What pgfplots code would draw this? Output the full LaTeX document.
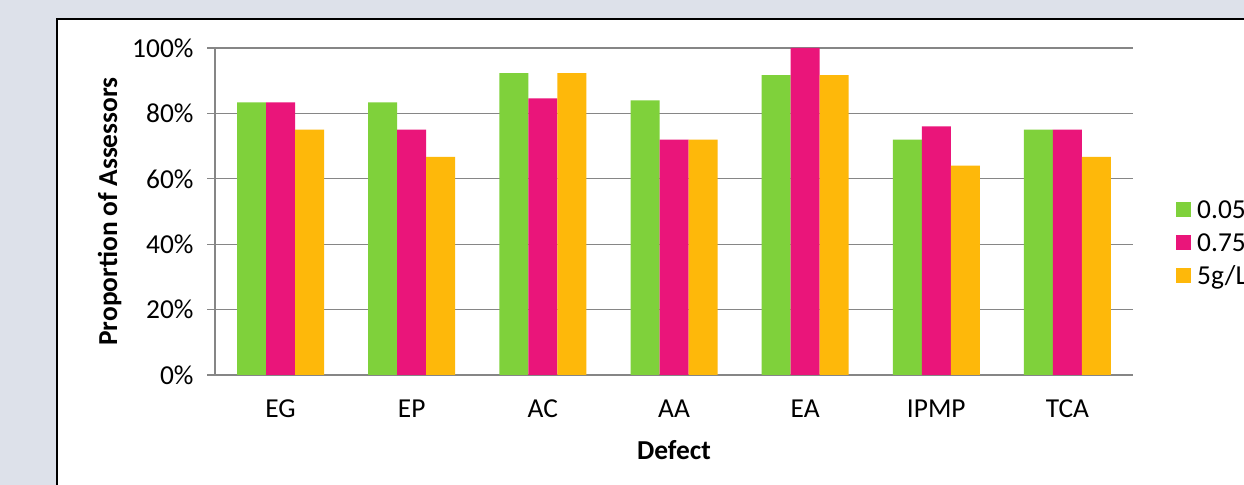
\documentclass[border=0pt]{standalone}
\usepackage{pgfplots}
\pgfplotsset{compat=1.18}
\usepackage{fontspec}
\setmainfont{Carlito}

\definecolor{pagebg}{HTML}{DDE1EA}
\definecolor{gridgray}{HTML}{868686}
\definecolor{cgreen}{HTML}{7FD13B}
\definecolor{cpink}{HTML}{EA157A}
\definecolor{corange}{HTML}{FEB80A}

\begin{document}
\begin{tikzpicture}[x=1bp,y=1bp]
  % page background and chart frame
  \fill[pagebg] (0,0) rectangle (1244,485);
  \fill[white] (57,-5) rectangle (1250,466);
  \draw[black, line width=2bp] (57,-5) -- (57,466) -- (1250,466);

  \begin{axis}[
    at={(215bp,110bp)}, anchor=south west,
    scale only axis, width=918bp, height=327bp,
    xmin=-0.5, xmax=6.5, ymin=0, ymax=100,
    ybar=0pt, bar width=29bp,
    xtick={0,...,6},
    xticklabels={EG,EP,AC,AA,EA,IPMP,TCA},
    ytick={0,20,40,60,80,100},
    yticklabels={0\%,20\%,40\%,60\%,80\%,100\%},
    axis x line*=bottom, axis y line*=left,
    axis line style={gridgray, line width=1.3bp, -},
    ymajorgrids, grid style={gridgray, line width=1.3bp},
    major x tick style={draw=none},
    major y tick style={gridgray, line width=1.3bp},
    major tick length=8bp, tick align=outside,
    tick label style={font=\fontsize{27.5}{32}\selectfont, text=black},
    yticklabel style={xshift=-10bp},
    xticklabel style={yshift=-13bp},
    xlabel={Defect}, ylabel={Proportion of Assessors},
    label style={font=\fontsize{27.5}{32}\selectfont\bfseries},
    xlabel style={yshift=-16bp},
    ylabel style={yshift=4bp},
    legend style={draw=none, fill=none, at={(1.0436,0.404)}, anchor=west,
      font=\fontsize{27.5}{32}\selectfont, row sep=0pt,
      nodes={text height=17bp, text depth=0bp, inner ysep=8bp},
      /tikz/every odd column/.append style={column sep=4bp}},
    legend cell align=left,
    legend image code/.code={\fill[#1] (0bp,-7.5bp) rectangle (15bp,7.5bp);},
  ]
    \addplot[fill=cgreen, draw=none] coordinates
      {(0,83.33) (1,83.33) (2,92.31) (3,84) (4,91.67) (5,72) (6,75)};
    \addplot[fill=cpink, draw=none] coordinates
      {(0,83.33) (1,75) (2,84.62) (3,72) (4,100) (5,76) (6,75)};
    \addplot[fill=corange, draw=none] coordinates
      {(0,75) (1,66.67) (2,92.31) (3,72) (4,91.67) (5,64) (6,66.67)};
    \legend{0.05,0.75,5g/L}
  \end{axis}

  \pgfresetboundingbox
  \path[use as bounding box] (0,0) rectangle (1244,485);
\end{tikzpicture}
\end{document}
